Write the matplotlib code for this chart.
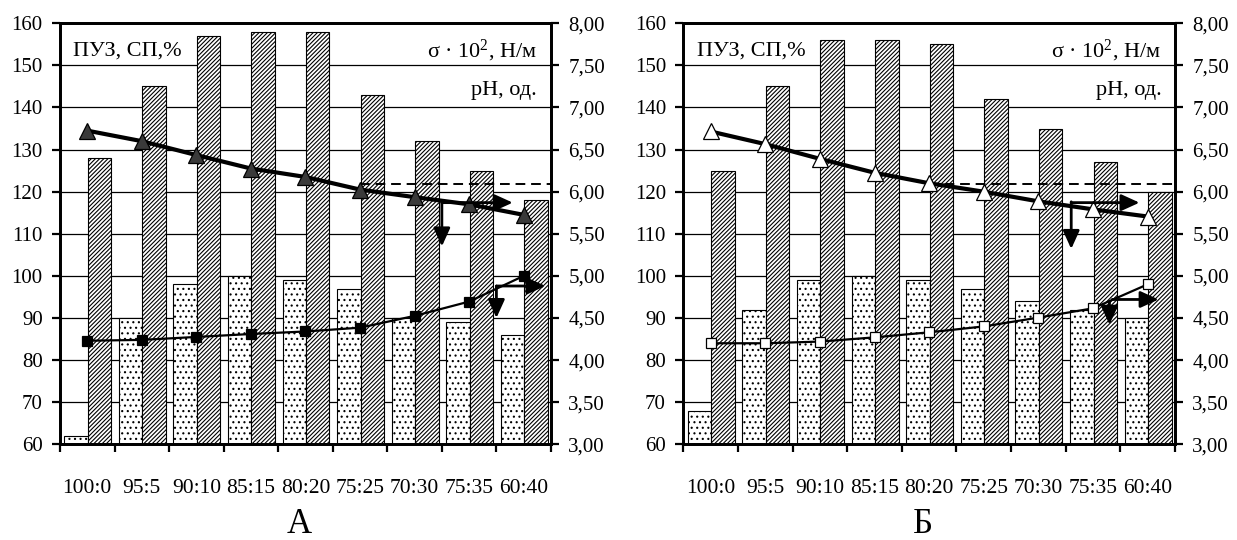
import numpy as np
import matplotlib
matplotlib.use('Agg')
import matplotlib.pyplot as plt
from matplotlib.ticker import FuncFormatter, FixedLocator

plt.rcParams['font.family'] = ['Liberation Serif', 'DejaVu Serif']
plt.rcParams['mathtext.fontset'] = 'custom'
plt.rcParams['mathtext.rm'] = 'Liberation Serif'
plt.rcParams['mathtext.default'] = 'regular'
plt.rcParams['hatch.linewidth'] = 0.8
plt.rcParams['hatch.color'] = '#222222'

categories = ['100:0', '95:5', '90:10', '85:15', '80:20', '75:25', '70:30', '75:35', '60:40']

# panel A
dotted_a = [62, 90, 98, 100, 99, 97, 90, 89, 86]
hatched_a = [128, 145, 157, 158, 158, 143, 132, 125, 118]
sigma_a = [6.725, 6.60, 6.435, 6.275, 6.175, 6.025, 5.935, 5.85, 5.725]
ph_a = [4.23, 4.24, 4.275, 4.31, 4.34, 4.385, 4.525, 4.695, 5.00]
dash_a = 6.09
dash_start_a = 5

# panel B
dotted_b = [68, 92, 99, 100, 99, 97, 94, 92, 90]
hatched_b = [125, 145, 156, 156, 155, 142, 135, 127, 120]
sigma_b = [6.715, 6.565, 6.39, 6.225, 6.10, 6.00, 5.885, 5.79, 5.705]
ph_b = [4.20, 4.20, 4.22, 4.27, 4.33, 4.40, 4.505, 4.615, 4.90]
dash_b = 6.09
dash_start_b = 4

# arrows (x0, y0, x1, y1) in category / right-axis units
arrows_a = [(6.5, 5.88, 6.5, 5.35), (6.5, 5.87, 7.8, 5.87),
            (7.5, 4.88, 7.5, 4.50), (7.5, 4.88, 8.4, 4.88)]
arrows_b = [(6.6, 5.88, 6.6, 5.32), (6.6, 5.87, 7.85, 5.87),
            (7.3, 4.70, 7.3, 4.42), (7.35, 4.72, 8.2, 4.72)]

fig = plt.figure(figsize=(12.37, 5.40), dpi=100)

def comma(v, pos):
    return f'{v:.2f}'.replace('.', ',')

def panel(rect, dotted, hatched, sigma, ph, dash, dash_start, arrows, tri_face, sq_face, letter):
    ax = fig.add_axes(rect)
    x = np.arange(len(categories))
    w = 0.43
    ax.bar(x - w / 2 + 0.01, np.array(dotted) - 60, w, bottom=60, color='white',
           edgecolor='black', hatch='...', linewidth=0.8, zorder=2)
    ax.bar(x + w / 2 + 0.01, np.array(hatched) - 60, w, bottom=60, color='white',
           edgecolor='black', hatch='////////', linewidth=0.8, zorder=2)
    ax.set_xlim(-0.5, len(categories) - 0.5)
    ax.set_ylim(60, 160)
    ax.set_yticks(np.arange(60, 161, 10))
    ax.yaxis.grid(True, color='black', linewidth=0.9)
    ax.set_axisbelow(True)
    ax.set_xticks(x)
    ax.set_xticklabels(categories, fontsize=15.5)
    ax.xaxis.set_minor_locator(FixedLocator(np.arange(-0.5, len(categories), 1)))
    ax.tick_params(axis='x', which='major', length=0, pad=25)
    ax.tick_params(axis='x', which='minor', length=5.5, width=1.6, direction='out')
    ax.tick_params(axis='y', length=5.5, width=1.6, labelsize=15, pad=7)
    for s in ax.spines.values():
        s.set_linewidth(2)

    ax2 = ax.twinx()
    ax2.set_ylim(3, 8)
    ax2.set_yticks(np.arange(3, 8.01, 0.5))
    ax2.yaxis.set_major_formatter(FuncFormatter(comma))
    ax2.tick_params(axis='y', length=5.5, width=1.6, labelsize=15, pad=7)
    for s in ax2.spines.values():
        s.set_linewidth(2)

    ax2.plot([dash_start, len(categories) - 0.5], [dash, dash], color='black',
             linestyle=(0, (5, 3)), linewidth=1.4, zorder=3)
    ax2.plot(x, sigma, color='black', linewidth=3, zorder=4)
    ax2.plot(x, sigma, linestyle='none', marker='^', markersize=11,
             markerfacecolor=tri_face, markeredgecolor='black', markeredgewidth=0.9, zorder=5)
    ax2.plot(x, ph, color='black', linewidth=1.6, marker='s', markersize=7.5,
             markerfacecolor=sq_face, markeredgecolor='black', markeredgewidth=0.9, zorder=5)

    for x0, y0, x1, y1 in arrows:
        ax2.annotate('', xy=(x1, y1), xytext=(x0, y0),
                     arrowprops=dict(arrowstyle='-|>,head_length=0.55,head_width=0.25',
                                     mutation_scale=20, color='black', lw=2,
                                     shrinkA=0, shrinkB=0), zorder=6)

    ax.text(0.027, 0.935, 'ПУЗ, СП,%', transform=ax.transAxes, fontsize=16,
            ha='left', va='center')
    ax.text(0.972, 0.935, 'σ · 10$^{2}$, Н/м', transform=ax.transAxes, fontsize=16,
            ha='right', va='center')
    ax.text(0.972, 0.84, 'pH, од.', transform=ax.transAxes, fontsize=16,
            ha='right', va='center')
    fig.text(rect[0] + rect[2] * 0.487, 1 - 533 / 540, letter, fontsize=25,
             ha='center', va='baseline')

panel([0.0485, 0.1772, 0.3969, 0.7797], dotted_a, hatched_a, sigma_a, ph_a,
      dash_a, dash_start_a, arrows_a, '#3a3a3a', 'black', 'А')
panel([0.5524, 0.1772, 0.3975, 0.7797], dotted_b, hatched_b, sigma_b, ph_b,
      dash_b, dash_start_b, arrows_b, 'white', 'white', 'Б')

fig.savefig('out.png', dpi=100)
